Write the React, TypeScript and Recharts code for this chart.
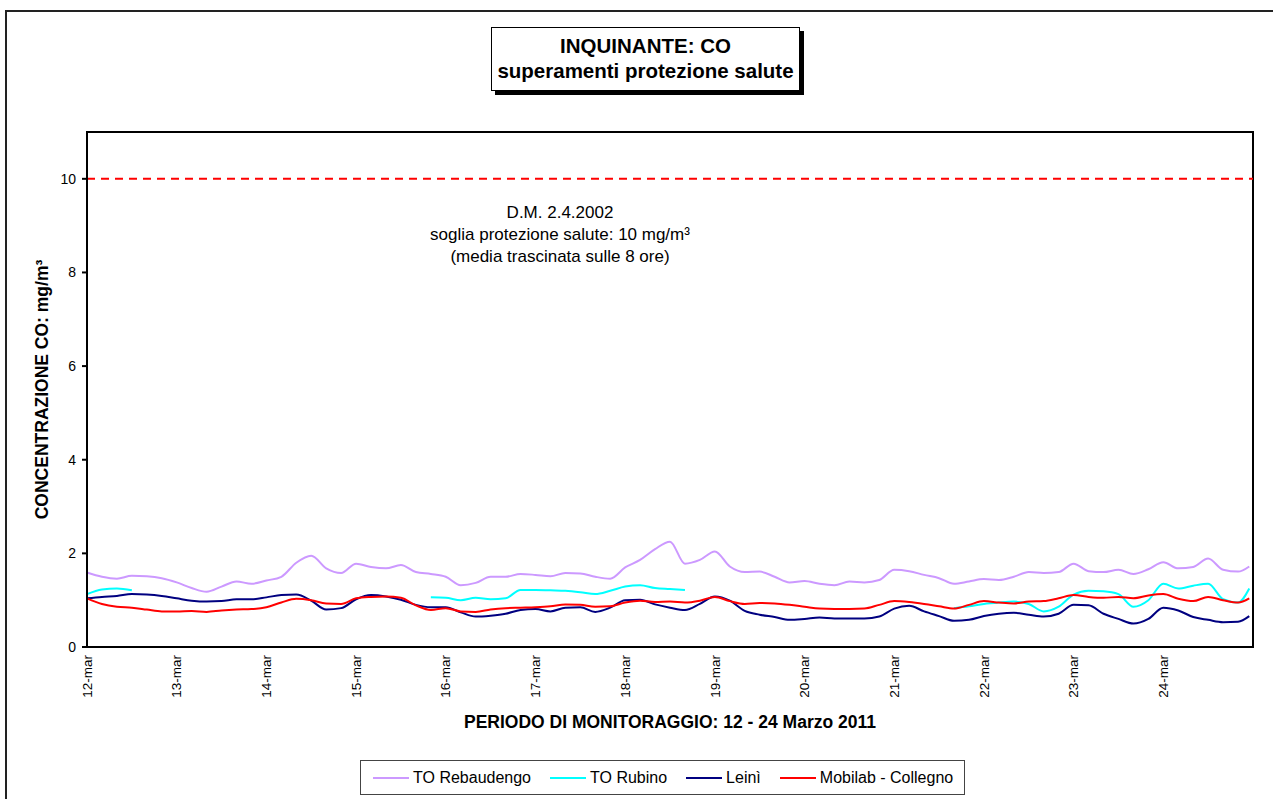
import { LineChart, Line, XAxis, YAxis, ReferenceLine, ReferenceArea, Label } from "recharts";

const FONT = '"Liberation Sans", Arial, sans-serif';

// ore trascorse dalle 00:00 del 12 marzo (un valore ogni 4 ore)
const hours = [
  0, 4, 8, 12, 16, 20, 24, 28, 32, 36, 40, 44, 48, 52, 56, 60, 64, 68, 72, 76,
  80, 84, 88, 92, 96, 100, 104, 108, 112, 116, 120, 124, 128, 132, 136, 140, 144, 148, 152, 156,
  160, 164, 168, 172, 176, 180, 184, 188, 192, 196, 200, 204, 208, 212, 216, 220, 224, 228, 232, 236,
  240, 244, 248, 252, 256, 260, 264, 268, 272, 276, 280, 284, 288, 292, 296, 300, 304, 308, 311,
];

const dayTicks = [0, 24, 48, 72, 96, 120, 144, 168, 192, 216, 240, 264, 288];
const dayLabels = [
  "12-mar", "13-mar", "14-mar", "15-mar", "16-mar", "17-mar", "18-mar",
  "19-mar", "20-mar", "21-mar", "22-mar", "23-mar", "24-mar",
];
const yTicks = [0, 2, 4, 6, 8, 10];

const rebaudengo = [
  1.59, 1.5, 1.46, 1.52, 1.51, 1.47, 1.38, 1.26, 1.18, 1.29,
  1.4, 1.35, 1.42, 1.5, 1.8, 1.95, 1.68, 1.58, 1.78, 1.71,
  1.68, 1.75, 1.6, 1.56, 1.5, 1.32, 1.37, 1.5, 1.5, 1.56,
  1.54, 1.51, 1.58, 1.57, 1.5, 1.46, 1.7, 1.86, 2.09, 2.25,
  1.78, 1.86, 2.04, 1.72, 1.6, 1.61, 1.5, 1.38, 1.41, 1.35,
  1.32, 1.4, 1.38, 1.43, 1.65, 1.62, 1.54, 1.47, 1.35, 1.4,
  1.45, 1.43, 1.5, 1.6, 1.58, 1.6, 1.78, 1.62, 1.6, 1.65,
  1.56, 1.66, 1.81, 1.68, 1.71, 1.89, 1.65, 1.61, 1.72,
];

const rubino = [
  1.13, 1.23, 1.25, 1.21,
  null, null, null, null, null, null, null, null, null, null,
  null, null, null, null, null, null, null, null, null,
  1.06, 1.05, 1.0, 1.05, 1.02, 1.04, 1.22, 1.22, 1.21, 1.2,
  1.17, 1.13, 1.2, 1.29, 1.32, 1.26, 1.24, 1.22,
  null, null, null, null, null, null, null, null, null, null,
  null, null, null, null, null, null, null,
  0.83, 0.87, 0.92, 0.95, 0.97, 0.92, 0.76, 0.86, 1.12, 1.2,
  1.19, 1.13, 0.86, 1.0, 1.35, 1.25, 1.31, 1.35, 1.02, 0.95, 1.25,
];

const leini = [
  1.04, 1.07, 1.09, 1.13, 1.12, 1.09, 1.04, 0.99, 0.97, 0.98,
  1.02, 1.02, 1.06, 1.11, 1.12, 0.99, 0.8, 0.83, 1.02, 1.11,
  1.08, 1.01, 0.9, 0.85, 0.85, 0.74, 0.65, 0.67, 0.71, 0.79,
  0.81, 0.76, 0.84, 0.85, 0.75, 0.84, 1.0, 1.01, 0.91, 0.84,
  0.79, 0.92, 1.08, 0.99, 0.77, 0.69, 0.64, 0.58, 0.6, 0.63,
  0.61, 0.61, 0.61, 0.65, 0.82, 0.88, 0.76, 0.66, 0.56, 0.58,
  0.66, 0.71, 0.73, 0.69, 0.65, 0.71, 0.9, 0.89, 0.71, 0.6,
  0.5, 0.6, 0.84, 0.78, 0.64, 0.58, 0.53, 0.54, 0.66,
];

const mobilab = [
  1.04, 0.92, 0.86, 0.84, 0.8, 0.76, 0.76, 0.77, 0.75, 0.78,
  0.8, 0.81, 0.85, 0.95, 1.03, 1.0, 0.93, 0.92, 1.04, 1.07,
  1.08, 1.05, 0.89, 0.79, 0.83, 0.76, 0.75, 0.8, 0.83, 0.84,
  0.85, 0.87, 0.91, 0.9, 0.86, 0.87, 0.95, 0.99, 0.96, 0.97,
  0.95, 0.99, 1.07, 0.98, 0.92, 0.94, 0.93, 0.9, 0.86, 0.82,
  0.81, 0.81, 0.82, 0.9, 0.98, 0.96, 0.92, 0.87, 0.82, 0.9,
  0.98, 0.95, 0.93, 0.97, 0.98, 1.04, 1.11, 1.07, 1.05, 1.07,
  1.04, 1.1, 1.13, 1.03, 0.98, 1.07, 1.0, 0.95, 1.04,
];

const series = [
  { key: "rebaudengo", name: "TO Rebaudengo", color: "#CC99FF" },
  { key: "rubino", name: "TO Rubino", color: "#00FFFF" },
  { key: "leini", name: "Leinì", color: "#000080" },
  { key: "mobilab", name: "Mobilab - Collegno", color: "#FF0000" },
];

const chartData = hours.map((h, i) => ({
  h,
  rebaudengo: rebaudengo[i],
  rubino: rubino[i],
  leini: leini[i],
  mobilab: mobilab[i],
}));

const DayTick = ({ x, y, payload }: any) => (
  <text
    x={x}
    y={y}
    transform={`rotate(-90 ${x} ${y})`}
    textAnchor="end"
    dy="0.35em"
    fontSize={13.5}
    fontFamily={FONT}
    fill="#000"
  >
    {dayLabels[Math.round(payload.value / 24)]}
  </text>
);

export default function App() {
  return (
    <div
      style={{
        position: "absolute",
        left: 0,
        top: 0,
        width: 1273,
        height: 799,
        overflow: "hidden",
        background: "#fff",
        fontFamily: FONT,
      }}
    >
      {/* cornice esterna del grafico */}
      <div
        style={{
          position: "absolute",
          left: 5,
          top: 10,
          width: 1400,
          height: 900,
          border: "2px solid #222",
        }}
      />

      <div style={{ position: "absolute", left: 0, top: 0 }}>
        <LineChart
          width={1273}
          height={799}
          data={chartData}
          margin={{ top: 132, right: 20, bottom: 92, left: 47 }}
        >
          <XAxis
            dataKey="h"
            type="number"
            domain={[0, 312]}
            ticks={dayTicks}
            interval={0}
            tick={<DayTick />}
            tickLine={false}
            tickSize={0}
            tickMargin={8}
            height={60}
            stroke="#000"
            strokeWidth={2}
          >
            <Label
              content={({ viewBox }: any) => (
                <text
                  x={viewBox.x + viewBox.width / 2}
                  y={viewBox.y + viewBox.height + 21}
                  textAnchor="middle"
                  fontSize={17.5}
                  fontWeight="bold"
                  fontFamily={FONT}
                  fill="#000"
                >
                  PERIODO DI MONITORAGGIO: 12 - 24 Marzo 2011
                </text>
              )}
            />
          </XAxis>
          <YAxis
            type="number"
            domain={[0, 11]}
            ticks={yTicks}
            width={40}
            tickSize={5}
            tickMargin={6}
            tick={{ fill: "#000", fontSize: 14, fontFamily: FONT }}
            stroke="#000"
            strokeWidth={2}
          >
            <Label
              content={({ viewBox }: any) => {
                const cx = viewBox.x - 5;
                const cy = viewBox.y + viewBox.height / 2;
                return (
                  <text
                    x={cx}
                    y={cy}
                    transform={`rotate(-90 ${cx} ${cy})`}
                    textAnchor="middle"
                    dy="0.35em"
                    fontSize={17.5}
                    fontWeight="bold"
                    fontFamily={FONT}
                    fill="#000"
                  >
                    CONCENTRAZIONE CO: mg/m³
                  </text>
                );
              }}
            />
          </YAxis>
          <ReferenceArea
            x1={0}
            x2={312}
            y1={0}
            y2={11}
            fill="none"
            stroke="#000"
            strokeWidth={2}
          />
          <ReferenceLine y={10} stroke="#FF0000" strokeWidth={2} strokeDasharray="8 6" />
          {series.map((s) => (
            <Line
              key={s.key}
              type="monotone"
              dataKey={s.key}
              name={s.name}
              stroke={s.color}
              strokeWidth={2}
              dot={false}
              activeDot={false}
              isAnimationActive={false}
            />
          ))}
        </LineChart>
      </div>

      {/* nota normativa */}
      <div
        style={{
          position: "absolute",
          left: 360,
          top: 202,
          width: 400,
          textAlign: "center",
          fontSize: 17,
          lineHeight: "22px",
          color: "#000",
        }}
      >
        D.M. 2.4.2002
        <br />
        soglia protezione salute: 10 mg/m³
        <br />
        (media trascinata sulle 8 ore)
      </div>

      {/* titolo */}
      <div
        style={{
          position: "absolute",
          left: 491,
          top: 27,
          width: 307,
          height: 57,
          border: "1px solid #000",
          background: "#fff",
          boxShadow: "4px 4px 0 #000",
          textAlign: "center",
          fontWeight: "bold",
          fontSize: 20.5,
          lineHeight: "25px",
          paddingTop: 5,
          boxSizing: "content-box",
          color: "#000",
          whiteSpace: "nowrap",
        }}
      >
        INQUINANTE: CO
        <br />
        superamenti protezione salute
      </div>

      {/* legenda */}
      <div
        style={{
          position: "absolute",
          left: 360,
          top: 760,
          width: 605,
          height: 35,
          border: "1px solid #444",
          background: "#fff",
          display: "flex",
          alignItems: "center",
          paddingLeft: 12,
          boxSizing: "border-box",
          gap: 19,
          fontSize: 16,
          color: "#000",
          whiteSpace: "nowrap",
        }}
      >
        {series.map((s) => (
          <div key={s.key} style={{ display: "flex", alignItems: "center" }}>
            <span
              style={{
                display: "inline-block",
                width: 36,
                height: 2,
                background: s.color,
                marginRight: 4,
              }}
            />
            <span>{s.name}</span>
          </div>
        ))}
      </div>
    </div>
  );
}
